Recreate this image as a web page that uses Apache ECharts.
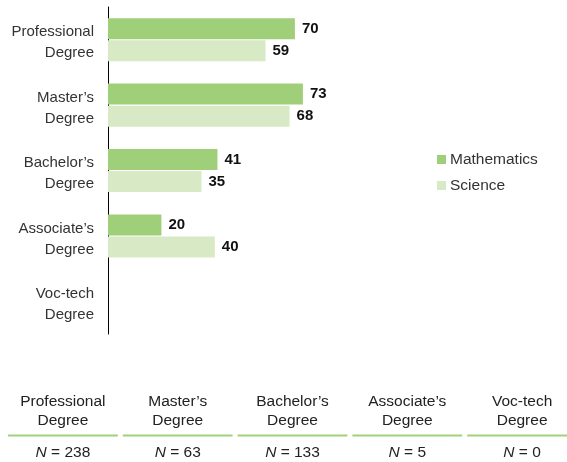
<!DOCTYPE html>
<html><head><meta charset="utf-8">
<script src="https://cdn.jsdelivr.net/npm/echarts@6/dist/echarts.min.js"></script>
<style>html,body{margin:0;padding:0;background:#fff}#c{width:567px;height:462px}</style>
</head><body><div id="c"></div>
<script>
const categories = ['Professional\nDegree', "Master\u2019s\nDegree", "Bachelor\u2019s\nDegree", "Associate\u2019s\nDegree", 'Voc-tech\nDegree'];
const mathValues = [70, 73, 41, 20, null];
const scienceValues = [59, 68, 35, 40, null];
const tableHeaders = ['Professional\nDegree', "Master\u2019s\nDegree", "Bachelor\u2019s\nDegree", "Associate\u2019s\nDegree", 'Voc-tech\nDegree'];
const nValues = [238, 63, 133, 5, 0];

const FONT = "'Liberation Sans', Arial, Helvetica, sans-serif";
const MATH_C = '#9fcf79';
const SCI_C = '#d8e9c6';

const chart = echarts.init(document.getElementById('c'), null, {renderer: 'canvas'});

const graphics = [];
const colW = 114.8, colX0 = 8;
tableHeaders.forEach((h, i) => {
  const cx = colX0 + colW * i + colW / 2 - 2.5;
  graphics.push({type: 'text', x: cx, y: 411, style: {text: h, font: '15.5px ' + FONT, fill: '#222', align: 'center', verticalAlign: 'middle', lineHeight: 18.5}});
  graphics.push({type: 'rect', shape: {x: colX0 + colW * i, y: 434.5, width: colW - 5, height: 2}, style: {fill: '#9fd17a'}});
  graphics.push({type: 'text', x: cx, y: 453, style: {text: '{i|N} = ' + nValues[i], font: '15.5px ' + FONT, fill: '#222', align: 'center', verticalAlign: 'middle', rich: {i: {fontStyle: 'italic', fontSize: 15.5, fontFamily: FONT, fill: '#222'}}}});
});

chart.setOption({
  animation: false,
  textStyle: {fontFamily: FONT},
  grid: {left: 108, top: 7, width: 267, height: 327, containLabel: false},
  legend: {
    orient: 'vertical', left: 437, top: 150, padding: 0, itemWidth: 9, itemHeight: 9, itemGap: 7,
    icon: 'rect',
    textStyle: {fontSize: 15.5, color: '#333', fontFamily: FONT, padding: [2, 0, 0, -1], lineHeight: 17},
    data: ['Mathematics', 'Science']
  },
  xAxis: {type: 'value', min: 0, max: 100, show: false},
  yAxis: {
    type: 'category', data: categories, inverse: true,
    axisLine: {show: true, lineStyle: {color: '#000', width: 1}},
    axisTick: {show: false},
    axisLabel: {
      fontSize: 15, color: '#333', lineHeight: 21, margin: 14, fontFamily: FONT,
      formatter: v => v.split('\n').map(s => '{t|' + s + '}').join('\n'),
      rich: {t: {fontSize: 15, color: '#333', lineHeight: 21, fontFamily: FONT, padding: [6, 0, 0, 0]}}
    }
  },
  series: [
    {name: 'Mathematics', type: 'bar', data: mathValues, barWidth: 21, barGap: '5%', itemStyle: {color: MATH_C},
     label: {show: true, position: 'right', distance: 7, fontSize: 15, fontWeight: 'bold', color: '#111', fontFamily: FONT}},
    {name: 'Science', type: 'bar', data: scienceValues, barWidth: 21, barGap: '5%', itemStyle: {color: SCI_C},
     label: {show: true, position: 'right', distance: 7, fontSize: 15, fontWeight: 'bold', color: '#111', fontFamily: FONT}}
  ],
  graphic: graphics
});
</script></body></html>
